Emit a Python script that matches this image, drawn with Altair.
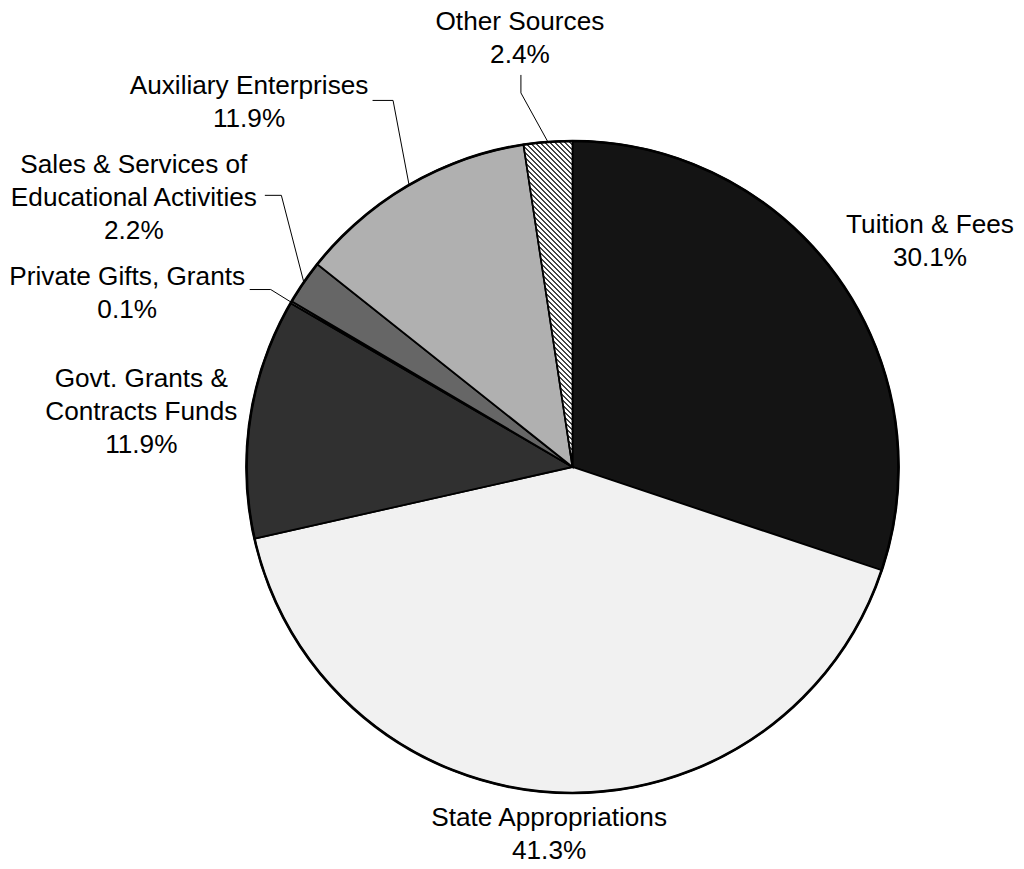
import altair as alt
import pandas as pd

# ---------------- data ----------------
categories = [
    "Tuition & Fees",
    "State Appropriations",
    "Govt. Grants & Contracts Funds",
    "Private Gifts, Grants",
    "Sales & Services of Educational Activities",
    "Auxiliary Enterprises",
    "Other Sources",
]
shares = [30.1, 41.3, 11.9, 0.1, 2.2, 11.9, 2.4]
label_lines = [
    ["Tuition & Fees"],
    ["State Appropriations"],
    ["Govt. Grants &", "Contracts Funds"],
    ["Private Gifts, Grants"],
    ["Sales & Services of", "Educational Activities"],
    ["Auxiliary Enterprises"],
    ["Other Sources"],
]

# ---------------- styles / layout ----------------
slice_fills = ["#141414", "#f1f1f1", "#303030", "#ffffff", "#666666", "#b0b0b0", "#b0b0b0"]
FONT = "Liberation Sans"
FONT_SIZE = 26.2
LINE_H = 33
W, H = 1008, 853
CX, CY, R = 564.5, 459, 326

# label block centre, offset from the slice's mid-point on the rim (px)
label_offset = {
    "Tuition & Fees": (93, -36),
    "State Appropriations": (-7, 41),
    "Govt. Grants & Contracts Funds": (-109, -6),
    "Private Gifts, Grants": (-164, -10),
    "Sales & Services of Educational Activities": (-170, -85),
    "Auxiliary Enterprises": (-160, -83),
    "Other Sources": (-28, -104),
}
# leader lines: elbow and end, offset from the slice's mid-point on the rim (px)
leader_offset = {
    "Auxiliary Enterprises": (-16, -84.5, -36.5, -84.5),
    "Other Sources": (-27, -49, -27, -67),
    "Sales & Services of Educational Activities": (-22.5, -87, -39, -87),
    "Private Gifts, Grants": (-20.5, -12.7, -41.5, -12.7),
}

# diagonal hatch for "Other Sources" (gradient across the slice's bounding box)
N_STRIPES = 75
DARK_PART = 0.45
stops = []
for k in range(N_STRIPES):
    a, b, c = k / N_STRIPES, (k + DARK_PART) / N_STRIPES, (k + 1) / N_STRIPES
    stops += [
        {"offset": round(a, 5), "color": "#444444"},
        {"offset": round(b, 5), "color": "#444444"},
        {"offset": round(b, 5), "color": "#ffffff"},
        {"offset": round(c, 5), "color": "#ffffff"},
    ]
hatch = {"gradient": "linear", "x1": 0, "y1": 1, "x2": 0.1691, "y2": -0.1249, "stops": stops}

df = pd.DataFrame({
    "cat": categories,
    "share": shares,
    "order": list(range(len(categories))),
    "label": [lines + [f"{s}%"] for lines, s in zip(label_lines, shares)],
})

label_layout = alt.InlineData(values=[
    {"cat": k, "ldx": v[0], "ldy": v[1]} for k, v in label_offset.items()
])
leader_layout = alt.InlineData(values=[
    {"cat": k, "ex": v[0], "ey": v[1], "tx": v[2], "ty": v[3]} for k, v in leader_offset.items()
])

base = alt.Chart(df)

pie = base.mark_arc(radius=R, stroke="black", strokeWidth=1.8).encode(
    theta=alt.Theta("share:Q", stack=True),
    order=alt.Order("order:Q", sort="ascending"),
    fill=alt.condition(
        alt.datum.cat == "Other Sources",
        alt.value(hatch),
        alt.Fill("cat:N", scale=alt.Scale(domain=categories, range=slice_fills), legend=None),
    ),
    x=alt.value(CX),
    y=alt.value(CY),
)

ring = base.transform_aggregate(n="count()").mark_arc(
    radius=R, fill="transparent", stroke="black", strokeWidth=2.7
).encode(
    theta=alt.value(0),
    theta2=alt.value(6.2832),
    x=alt.value(CX),
    y=alt.value(CY),
)

geo = (
    base.transform_joinaggregate(total="sum(share)")
    .transform_window(cum="sum(share)", sort=[alt.SortField("order")], frame=[None, 0])
    .transform_calculate(ang="(datum.cum - datum.share / 2) / datum.total * 2 * PI")
    .transform_calculate(
        sx=f"{CX} + {R} * sin(datum.ang)",
        sy=f"{CY} - {R} * cos(datum.ang)",
    )
)

labels = (
    geo.transform_lookup(lookup="cat", from_=alt.LookupData(data=label_layout, key="cat", fields=["ldx", "ldy"]))
    .transform_calculate(
        lx="datum.sx + datum.ldx",
        ly=f"datum.sy + datum.ldy + 1 - (length(datum.label) - 1) * {LINE_H} / 2",
    )
    .mark_text(font=FONT, fontSize=FONT_SIZE, lineHeight=LINE_H, align="center",
               baseline="middle", color="black")
    .encode(
        x=alt.X("lx:Q", scale=None, axis=None),
        y=alt.Y("ly:Q", scale=None, axis=None),
        text=alt.Text("label:N"),
    )
)

lead = (
    geo.transform_lookup(lookup="cat", from_=alt.LookupData(data=leader_layout, key="cat", fields=["ex", "ey", "tx", "ty"]))
    .transform_filter("isValid(datum.ex)")
    .transform_calculate(
        ax="datum.sx + datum.ex", ay="datum.sy + datum.ey",
        bx="datum.sx + datum.tx", by="datum.sy + datum.ty",
    )
)
seg1 = lead.mark_rule(color="black", strokeWidth=1).encode(
    x=alt.X("sx:Q", scale=None, axis=None),
    y=alt.Y("sy:Q", scale=None, axis=None),
    x2=alt.X2("ax:Q"),
    y2=alt.Y2("ay:Q"),
)
seg2 = lead.mark_rule(color="black", strokeWidth=1).encode(
    x=alt.X("ax:Q", scale=None, axis=None),
    y=alt.Y("ay:Q", scale=None, axis=None),
    x2=alt.X2("bx:Q"),
    y2=alt.Y2("by:Q"),
)

chart = (
    alt.layer(pie, ring, seg1, seg2, labels)
    .properties(width=W, height=H, padding=0, autosize="none", background="white")
    .configure_view(stroke=None)
)

chart.save("out.html", embed_options={"renderer": "svg", "actions": False})
